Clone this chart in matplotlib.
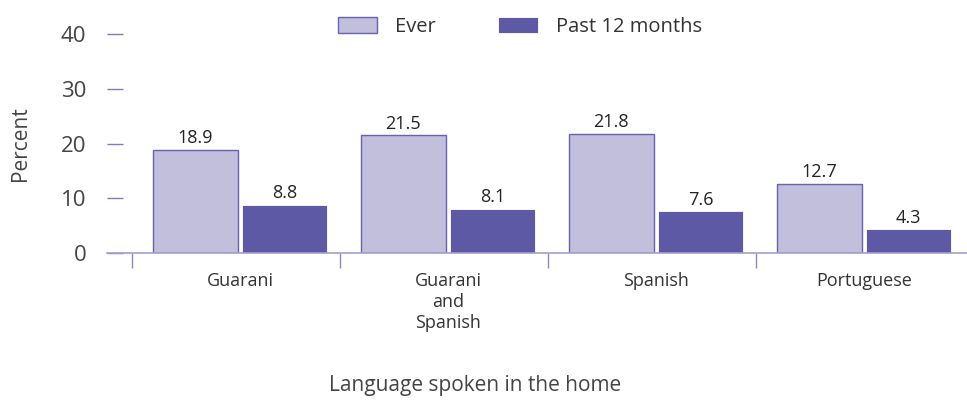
import numpy as np
import matplotlib
matplotlib.use("Agg")
import matplotlib.pyplot as plt

#############################################################################################
# data
languages = ["Guarani", "Guarani\nand\nSpanish", "Spanish", "Portuguese"]
ever = [18.9, 21.5, 21.8, 12.7]
past_12_months = [8.8, 8.1, 7.6, 4.3]
y_ticks = [0, 10, 20, 30, 40]

#############################################################################################
# colours
LIGHT = "#C2BFDD"
DARK = "#5D59A5"
EDGE = "#6662AE"
AXIS = "#A3A0D0"
TEXT = "#333333"

plt.rcParams['font.family'] = ['Open Sans', 'DejaVu Sans']

fig = plt.figure(figsize=(9.67, 4.0), dpi=100)
ax = fig.add_axes([107 / 967, 1 - 253 / 400, 1 - 107 / 967, (253 - 15) / 400])

x = np.arange(len(languages))
width = 0.41
offset = 0.215

bars_ever = ax.bar(x - offset, ever, width, color=LIGHT, edgecolor=EDGE, linewidth=1.0, label="Ever")
bars_past = ax.bar(x + offset, past_12_months, width, color=DARK, edgecolor="white", linewidth=0.6,
                   label="Past 12 months")

# value labels above bars
for bars in (bars_ever, bars_past):
    for b in bars:
        ax.text(b.get_x() + b.get_width() / 2, b.get_height() + 0.5, f"{b.get_height():.1f}",
                ha="center", va="bottom", fontsize=13, color="#222222")

ax.set_xlim(-0.64, 3.495)
ax.set_ylim(0, 43.5)

# spines
for s in ["top", "right", "left"]:
    ax.spines[s].set_visible(False)
ax.spines["bottom"].set_color(AXIS)
ax.spines["bottom"].set_linewidth(1.2)

# y ticks as short dashes inside the axes
ax.set_yticks(y_ticks)
ax.tick_params(axis="y", direction="in", length=11.5, width=1.0, color="#7F7BC0", pad=15,
               labelsize=16, labelcolor="#444444")

# category labels
ax.set_xticks(x)
ax.set_xticklabels(languages, fontsize=13, color=TEXT, linespacing=1.2)
ax.tick_params(axis="x", length=0, pad=14)

# group separator ticks below the axis
ax.vlines(x - 0.52, 0, -2.7, color="#8A87C6", linewidth=1.0, clip_on=False)

ax.set_ylabel("Percent", fontsize=15, color="#444444", va="center")
ax.yaxis.set_label_coords(-0.101, 0.46)
ax.set_xlabel("Language spoken in the home", fontsize=15, color="#444444", va="center")
ax.xaxis.set_label_coords(0.428, -0.555)

ax.legend(loc="center", bbox_to_anchor=(0.48, 0.95), ncol=2, frameon=False, fontsize=14.5,
          handlelength=1.95, handleheight=0.8, columnspacing=3.1, handletextpad=0.9,
          labelcolor=TEXT)

fig.savefig("out.png", dpi=100)
